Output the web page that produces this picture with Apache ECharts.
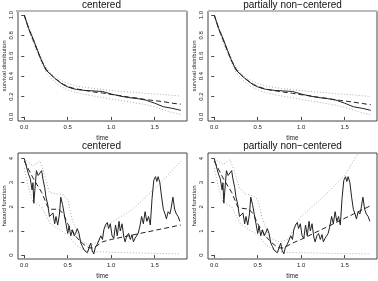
<!DOCTYPE html>
<html>
<head>
<meta charset="utf-8">
<script src="https://cdn.jsdelivr.net/npm/echarts@6/dist/echarts.min.js"></script>
<style>
  html, body { margin: 0; padding: 0; background: #fff; }
  #chart { width: 378px; height: 281px; }
</style>
</head>
<body>
<div id="chart"></div>
<script>
// panel titles
var panelTitles = ['centered', 'partially non\u2212centered', 'centered', 'partially non\u2212centered']

// survival curves
var survTime = [0, 0.05, 0.1, 0.15, 0.2, 0.25, 0.3, 0.35, 0.4, 0.45, 0.5, 0.55, 0.6, 0.7, 0.8, 0.9, 1.0, 1.1, 1.2, 1.3, 1.4, 1.45, 1.5, 1.6, 1.7, 1.8]
var survTrue = [1.0, 0.87, 0.77, 0.66, 0.55, 0.46, 0.42, 0.38, 0.345, 0.315, 0.295, 0.28, 0.27, 0.26, 0.255, 0.25, 0.225, 0.205, 0.19, 0.18, 0.165, 0.15, 0.135, 0.1, 0.085, 0.065]
var survEstC = [1.0, 0.87, 0.76, 0.65, 0.55, 0.47, 0.42, 0.38, 0.35, 0.32, 0.30, 0.285, 0.275, 0.26, 0.245, 0.235, 0.22, 0.21, 0.195, 0.185, 0.17, 0.165, 0.16, 0.15, 0.135, 0.125]
var survUpC = [1.0, 0.89, 0.78, 0.67, 0.57, 0.49, 0.43, 0.395, 0.37, 0.345, 0.33, 0.315, 0.305, 0.29, 0.28, 0.27, 0.26, 0.252, 0.245, 0.238, 0.23, 0.227, 0.225, 0.22, 0.212, 0.205]
var survLoC = [1.0, 0.85, 0.74, 0.63, 0.53, 0.44, 0.39, 0.345, 0.31, 0.285, 0.265, 0.25, 0.24, 0.22, 0.205, 0.19, 0.175, 0.162, 0.15, 0.135, 0.12, 0.11, 0.1, 0.07, 0.045, 0.025]
var survEstP = [1.0, 0.87, 0.76, 0.65, 0.55, 0.47, 0.42, 0.38, 0.35, 0.32, 0.30, 0.285, 0.272, 0.257, 0.243, 0.232, 0.218, 0.207, 0.193, 0.182, 0.168, 0.162, 0.157, 0.145, 0.132, 0.12]
var survUpP = [1.0, 0.89, 0.78, 0.67, 0.57, 0.49, 0.43, 0.395, 0.37, 0.345, 0.33, 0.315, 0.303, 0.288, 0.278, 0.268, 0.258, 0.25, 0.243, 0.236, 0.228, 0.225, 0.222, 0.216, 0.208, 0.2]
var survLoP = [1.0, 0.85, 0.74, 0.63, 0.53, 0.44, 0.39, 0.345, 0.31, 0.285, 0.265, 0.25, 0.238, 0.218, 0.202, 0.187, 0.172, 0.158, 0.145, 0.13, 0.115, 0.105, 0.095, 0.065, 0.04, 0.02]

// hazard: jagged solid curve
var hazTime = [0, 0.045, 0.07, 0.09, 0.1, 0.11, 0.14, 0.16, 0.18, 0.2, 0.215, 0.235, 0.25, 0.27, 0.29, 0.31, 0.33, 0.35, 0.365, 0.385,
  0.405, 0.42, 0.44, 0.46, 0.48, 0.5, 0.515, 0.535, 0.555, 0.575, 0.59, 0.61, 0.63, 0.65, 0.67, 0.69, 0.71, 0.725, 0.745, 0.765,
  0.78, 0.8, 0.82, 0.84, 0.86, 0.88, 0.9, 0.915, 0.935, 0.955, 0.97, 0.99, 1.01, 1.03, 1.05, 1.07, 1.09, 1.105, 1.125, 1.145,
  1.16, 1.18, 1.2, 1.22, 1.24, 1.255, 1.275, 1.295, 1.31, 1.33, 1.35, 1.37, 1.39, 1.41, 1.43, 1.45, 1.47, 1.49, 1.51, 1.525,
  1.54, 1.56, 1.58, 1.6, 1.62, 1.635, 1.655, 1.675, 1.69, 1.71, 1.73, 1.75, 1.77, 1.79]
var hazTrue = [4.0, 3.4, 3.15, 2.7, 3.0, 2.15, 3.5, 3.3, 3.4, 3.5, 3.15, 2.8, 2.4, 2.1, 1.6, 1.6, 1.75, 1.3, 1.6, 1.25,
  1.7, 2.4, 2.1, 1.7, 1.3, 0.9, 1.2, 0.8, 1.05, 0.8, 0.9, 1.1, 0.9, 0.5, 0.35, 0.2, 0.15, 0.1, 0.05, 0.5,
  0.2, 0.05, 0.35, 0.45, 0.5, 0.8, 0.65, 1.05, 1.25, 1.35, 1.1, 1.3, 0.8, 0.7, 1.25, 0.8, 1.4, 1.0, 1.3, 0.75,
  0.55, 0.8, 0.9, 0.65, 0.85, 0.55, 0.7, 0.65, 0.9, 1.2, 1.6, 1.3, 1.8, 1.4, 1.6, 1.25, 2.35, 3.1, 3.25, 3.05,
  3.25, 3.0, 2.4, 1.9, 1.7, 1.5, 1.8, 1.7, 1.95, 2.4, 1.9, 1.7, 1.6, 1.4]

// hazard: estimates and bands
var hazEstTime = [0, 0.1, 0.2, 0.27, 0.3, 0.4, 0.45, 0.5, 0.55, 0.6, 0.65, 0.7, 0.75, 0.8, 0.9, 1.0, 1.2, 1.4, 1.6, 1.8]
var hazEstC = [3.9, 3.2, 2.6, 2.0, 1.9, 1.9, 1.7, 1.3, 1.0, 0.75, 0.55, 0.4, 0.3, 0.3, 0.55, 0.65, 0.8, 0.95, 1.1, 1.25]
var hazEstP = [3.9, 3.2, 2.6, 2.0, 1.95, 1.9, 1.7, 1.3, 1.0, 0.75, 0.55, 0.4, 0.3, 0.3, 0.5, 0.65, 1.0, 1.35, 1.7, 2.05]
var hazUpTime = [0, 0.1, 0.18, 0.22, 0.29, 0.35, 0.45, 0.5, 0.55, 0.6, 0.65, 0.75, 0.85, 0.95, 1.0, 1.25, 1.5, 1.65, 1.8]
var hazUpC = [4.0, 3.7, 3.9, 3.5, 2.6, 2.55, 2.5, 2.3, 1.5, 1.0, 0.6, 0.4, 0.55, 1.2, 1.35, 1.9, 2.75, 3.3, 3.9]
var hazUpP = [4.0, 3.75, 3.95, 3.6, 2.8, 2.55, 2.45, 2.3, 1.55, 1.05, 0.7, 0.55, 0.65, 1.35, 1.6, 2.4, 3.3, 4.2, 4.9]
var hazLoTime = [0, 0.05, 0.1, 0.2, 0.3, 0.4, 0.5, 0.6, 0.7, 0.8, 1.0, 1.4, 1.8]
var hazLoC = [3.6, 2.8, 2.2, 2.0, 1.3, 1.05, 0.85, 0.4, 0.2, 0.15, 0.12, 0.08, 0.05]
var hazLoP = [3.6, 2.8, 2.2, 2.0, 1.3, 1.05, 0.85, 0.4, 0.2, 0.12, 0.1, 0.07, 0.05]

// tick labels
var xTicks = [0, 0.5, 1.0, 1.5]
var survTicks = [0, 0.2, 0.4, 0.6, 0.8, 1.0]
var hazTicks = [0, 1, 2, 3, 4]

function pairs(t, v) {
  var out = []
  for (var i = 0; i < t.length; i++) out.push([t[i], v[i]])
  return out
}

var chart = echarts.init(document.getElementById('chart'))
var FONT = 'Liberation Sans, Arial, sans-serif'

var grids = [
  { left: 16, top: 11, width: 171, height: 110 },
  { left: 208, top: 11, width: 169, height: 110 },
  { left: 16, top: 153, width: 171, height: 110 },
  { left: 208, top: 153, width: 169, height: 110 }
]

function fmtSurv(v) { return v.toFixed(1) }
function fmtHaz(v) { return String(Math.round(v)) }

var xAxes = [], yAxes = [], titles = []
for (var g = 0; g < 4; g++) {
  grids[g].show = true
  grids[g].borderColor = '#444'
  grids[g].borderWidth = 1
  grids[g].containLabel = false
  xAxes.push({
    type: 'value', gridIndex: g, min: -0.072, max: 1.872,
    name: 'time', nameLocation: 'middle', nameGap: 14,
    nameTextStyle: { fontSize: 6.5, fontFamily: FONT, color: '#222' },
    axisLine: { show: false },
    axisTick: { show: true, inside: false, length: 3, lineStyle: { color: '#444' }, customValues: xTicks },
    axisLabel: { fontSize: 6, margin: 3, fontFamily: FONT, color: '#222', customValues: xTicks, formatter: fmtSurv },
    splitLine: { show: false }
  })
  var surv = g < 2
  yAxes.push({
    type: 'value', gridIndex: g,
    min: surv ? -0.04 : -0.16, max: surv ? 1.04 : 4.23,
    name: surv ? 'survival distribution' : 'hazard function',
    nameLocation: 'middle', nameGap: 11,
    nameTextStyle: { fontSize: 6, fontFamily: FONT, color: '#222' },
    axisLine: { show: false },
    axisTick: { show: true, inside: false, length: 3, lineStyle: { color: '#444' }, customValues: surv ? survTicks : hazTicks },
    axisLabel: { fontSize: 6, margin: 4, rotate: 90, fontFamily: FONT, color: '#222',
      customValues: surv ? survTicks : hazTicks, formatter: surv ? fmtSurv : fmtHaz },
    splitLine: { show: false }
  })
  titles.push({
    text: panelTitles[g],
    left: grids[g].left + grids[g].width / 2, top: g < 2 ? 0 : 141,
    textAlign: 'center', padding: 0,
    textStyle: { fontSize: 10, fontWeight: 'normal', fontFamily: FONT, color: '#111' }
  })
}

function line(idx, data, kind) {
  var style = { color: '#222', width: 1, type: 'solid' }
  if (kind === 'dashed') style = { color: '#222', width: 1, type: [5, 3] }
  if (kind === 'dotted') style = { color: '#999', width: 0.8, type: [1, 2] }
  return {
    type: 'line', xAxisIndex: idx, yAxisIndex: idx, data: data,
    showSymbol: false, symbol: 'none', silent: true, animation: false,
    clip: true, lineStyle: style
  }
}

var series = [
  line(0, pairs(survTime, survUpC), 'dotted'),
  line(0, pairs(survTime, survLoC), 'dotted'),
  line(0, pairs(survTime, survEstC), 'dashed'),
  line(0, pairs(survTime, survTrue), 'solid'),
  line(1, pairs(survTime, survUpP), 'dotted'),
  line(1, pairs(survTime, survLoP), 'dotted'),
  line(1, pairs(survTime, survEstP), 'dashed'),
  line(1, pairs(survTime, survTrue), 'solid'),
  line(2, pairs(hazUpTime, hazUpC), 'dotted'),
  line(2, pairs(hazLoTime, hazLoC), 'dotted'),
  line(2, pairs(hazEstTime, hazEstC), 'dashed'),
  line(2, pairs(hazTime, hazTrue), 'solid'),
  line(3, pairs(hazUpTime, hazUpP), 'dotted'),
  line(3, pairs(hazLoTime, hazLoP), 'dotted'),
  line(3, pairs(hazEstTime, hazEstP), 'dashed'),
  line(3, pairs(hazTime, hazTrue), 'solid')
]

chart.setOption({
  backgroundColor: '#fff',
  animation: false,
  title: titles,
  grid: grids,
  xAxis: xAxes,
  yAxis: yAxes,
  series: series,
  graphic: [
    { type: 'line', shape: { x1: 16, y1: 11, x2: 187, y2: 11 }, style: { stroke: '#bbb', lineWidth: 2 } },
    { type: 'line', shape: { x1: 208, y1: 11, x2: 377, y2: 11 }, style: { stroke: '#bbb', lineWidth: 2 } }
  ]
})
</script>
</body>
</html>
